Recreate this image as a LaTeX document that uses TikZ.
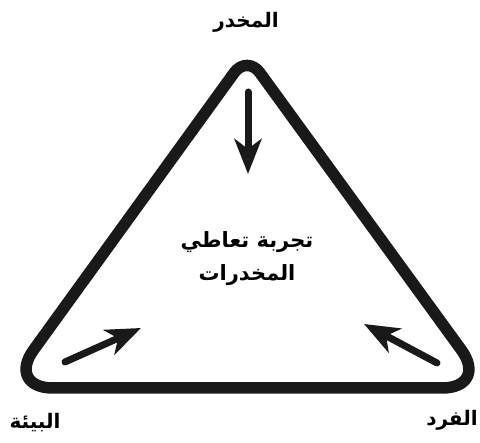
\documentclass[tikz,border=0pt]{standalone}
\usepackage{fontspec}
\newfontfamily\arabicfont[Script=Arabic]{DejaVu Sans}
\TeXXeTstate=1
\usetikzlibrary{
  arrows.meta,
  positioning
}

\begin{document}
\begin{tikzpicture}[
      x=1pt,y=-1pt,
      label text/.style={
         inner sep=0pt,
         font=\arabicfont\bfseries\fontsize{20}{24}\selectfont
      },
      centre text/.style={
         inner sep=0pt,
         align=center,
         font=\arabicfont\bfseries\fontsize{21}{33}\selectfont
      },
      frame/.style={line width=11.5pt,draw=black!90,line join=round},
      push/.style={line width=7pt,draw=black!90,line cap=round,
         -{Stealth[length=35pt,width=27pt,inset=10pt]}},
      point/.style={coordinate}
    ]
    \useasboundingbox (0,0) rectangle (480,443);
    % corners of the triangle
    \node (top) [point] at (247,55) {};
    \node (left) [point] at (6,388) {};
    \node (right) [point] at (489,388) {};
    \node (base) [point] at (247,388) {};
    \draw[frame] (base) [rounded corners=47] -- (right)
       [rounded corners=22] -- (top)
       [rounded corners=47] -- (left) -- cycle;
    % labels
    \node (drug) [label text] at (246,22) {\beginR المخدر\endR};
    \node (env) [label text] at (35,423) {\beginR البيئة\endR};
    \node (indiv) [label text] at (452,420) {\beginR الفرد\endR};
    \node (exp) [centre text] at (247,259) {\beginR تجربة تعاطي\endR\\\beginR المخدرات\endR};
    % arrows to the centre
    \node (t1) [point] at (248,92) {};
    \node (t2) [point] at (248,174) {};
    \node (l1) [point] at (65,362) {};
    \node (l2) [point] at (141,328) {};
    \node (r1) [point] at (437,363) {};
    \node (r2) [point] at (364,324) {};
    \draw[push] (t1) -- (t2);
    \draw[push] (l1) -- (l2);
    \draw[push] (r1) -- (r2);
\end{tikzpicture}
\end{document}
